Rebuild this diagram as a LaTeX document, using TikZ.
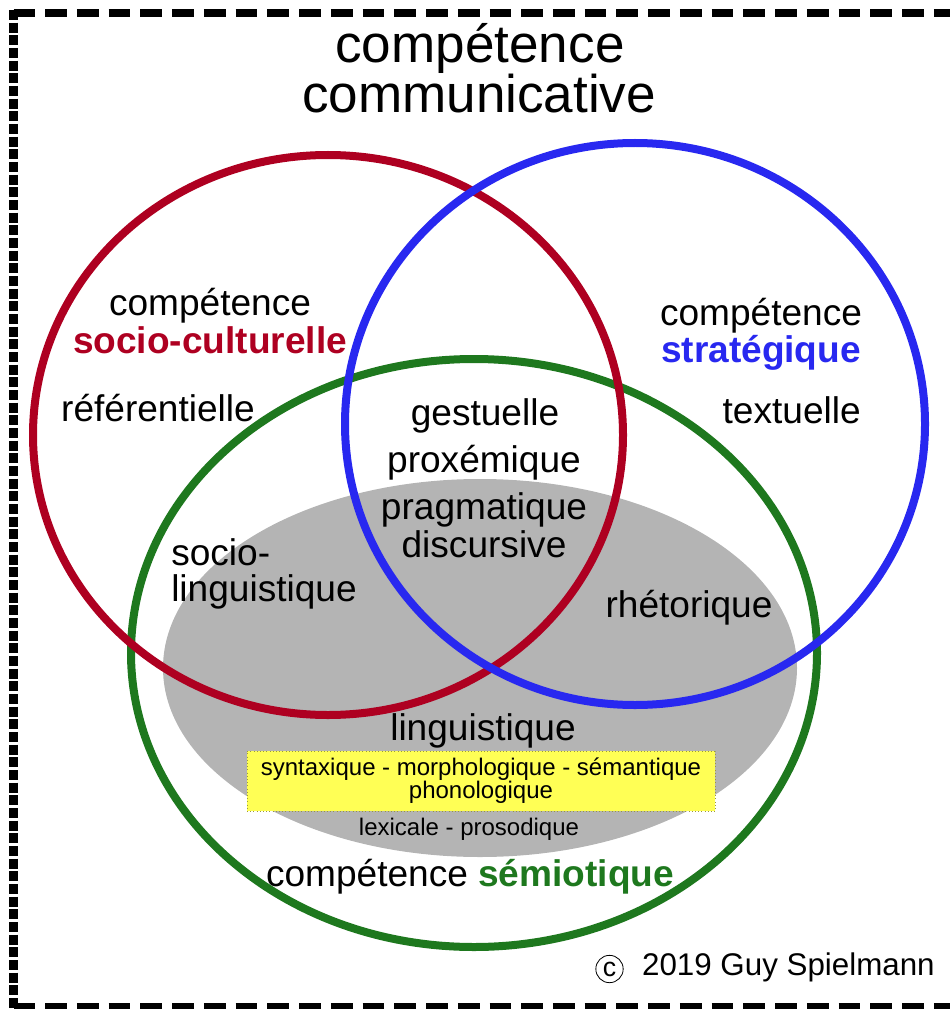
\documentclass[tikz,border=0pt]{standalone}
\usepackage{fontspec}
\setmainfont{Liberation Sans}
\definecolor{socio}{HTML}{AE0021}
\definecolor{strat}{HTML}{2828F0}
\definecolor{semio}{HTML}{1E781E}
\definecolor{ling}{HTML}{B4B4B4}
\definecolor{syn}{HTML}{FFFF55}
\definecolor{synedge}{HTML}{9A9A3C}

\begin{document}
\begin{tikzpicture}[x=0.75pt,y=-0.75pt,
  lab/.style={inner sep=0, anchor=base, font=\fontsize{27.8}{30}\selectfont},
  small/.style={inner sep=0, anchor=base, font=\fontsize{18}{17.3}\selectfont},
  ring/.style={line width=6pt}]
\useasboundingbox (0,0) rectangle (949,1009);
% cadre
\draw[line width=6.5pt, dash pattern=on 7.5pt off 2pt] (13.5,10) -- (13.5,1012);
\draw[line width=6pt, dash pattern=on 16.3pt off 7.5pt] (13.5,13.5) -- (960,13.5);
\draw[line width=6pt, dash pattern=on 16.3pt off 7.5pt] (13.5,1007) -- (960,1007);
% zone linguistique
\fill[ling] (480,668) ellipse [x radius=317, y radius=189];
\node[draw=synedge, dotted, fill=syn, minimum width=351pt, minimum height=45pt,
  align=center, font=\fontsize{18}{17.3}\selectfont] (syn) at (481,781)
  {syntaxique - morphologique - sémantique\\phonologique};
% cercles
\draw[ring, semio] (474,653) ellipse [x radius=343, y radius=294];
\draw[ring, socio] (328,435) ellipse [x radius=295, y radius=280];
\draw[ring, strat] (635,424) ellipse [x radius=290, y radius=281];
% textes
\node[lab, font=\fontsize{39.8}{41}\selectfont] (titre) at (480,63) {compétence};
\node[lab, font=\fontsize{39.8}{41}\selectfont] (titrecom) at (479,113) {communicative};
\node[lab] (compsc) at (210,315) {compétence};
\node[lab, socio] (sc) at (210,353) {\textbf{socio-culturelle}};
\node[lab] (ref) at (158,421) {référentielle};
\node[lab] (compst) at (761,325) {compétence};
\node[lab, strat] (st) at (761,362) {\textbf{stratégique}};
\node[lab, anchor=base east] (textu) at (861,423) {textuelle};
\node[lab] (gest) at (485,425) {gestuelle};
\node[lab] (prox) at (484,472) {proxémique};
\node[lab] (prag) at (484,519) {pragmatique};
\node[lab] (disc) at (484,557) {discursive};
\node[lab, anchor=base west] (soc) at (171,565) {socio-};
\node[lab, anchor=base west] (socling) at (171,601) {linguistique};
\node[lab] (rhet) at (689,617) {rhétorique};
\node[lab] (ling) at (483,740) {linguistique};
\node[small] (lex) at (469,835) {lexicale - prosodique};
\node[lab] (semio) at (470,886) {compétence \textcolor{semio}{\textbf{sémiotique}}};
% copyright
\node[draw, circle, line width=0.6pt, minimum size=20.5pt, inner sep=0,
  font=\fontsize{20}{20}\selectfont] (copyc) at (609.5,969) {c};
\node[lab, font=\fontsize{23.5}{25}\selectfont, anchor=base east] (copy) at (935,975)
  {2019 Guy Spielmann};
\end{tikzpicture}
\end{document}
